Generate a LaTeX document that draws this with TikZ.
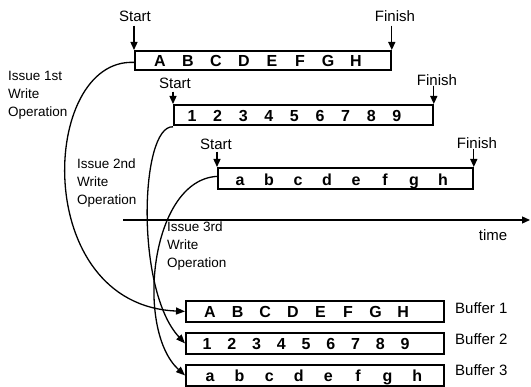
\documentclass[tikz,border=0pt]{standalone}
\usepackage{fontspec}
\setmainfont{Liberation Sans}
\usetikzlibrary{arrows.meta}
\begin{document}
\begin{tikzpicture}[x=1pt,y=-1pt,
  wbox/.style={draw, line width=1.8pt, inner sep=0pt, anchor=north west},
  let/.style={font=\fontsize{16}{16}\selectfont\bfseries, anchor=base, inner sep=0pt},
  lab/.style={font=\fontsize{15}{15}\selectfont, inner sep=0pt},
  issue/.style={font=\fontsize{13.5}{18}\selectfont, align=left, anchor=north west, inner sep=0pt},
  arr/.style={line width=1.3pt, -{Triangle[length=8pt,width=7pt]}},
  curve/.style={line width=1.3pt, -{Triangle[length=9pt,width=7pt]}}]
\useasboundingbox (0,0) rectangle (531,387);

% top write boxes
\node[wbox, minimum width=256pt, minimum height=19pt] (w1) at (134,50) {};
\node[wbox, minimum width=259pt, minimum height=20pt] (w2) at (173,104) {};
\node[wbox, minimum width=255pt, minimum height=21pt] (w3) at (217,167) {};

\foreach \c [count=\i] in {A,B,C,D,E,F,G,H}
  \node[let] (ta\i) at ({160+28*(\i-1)},67) {\c};
\foreach \c [count=\i] in {1,2,3,4,5,6,7,8,9}
  \node[let] (tb\i) at ({192+25.6*(\i-1)},122) {\c};
\foreach \c [count=\i] in {a,b,c,d,e,f,g,h}
  \node[let] (tc\i) at ({240+29*(\i-1)},186) {\c};

% start / finish labels
\node[lab] (s1) at (135,16) {Start};
\node[lab] (f1) at (395,16) {Finish};
\node[lab] (s2) at (175,83) {Start};
\node[lab] (f2) at (437,80) {Finish};
\node[lab] (s3) at (216,144) {Start};
\node[lab] (f3) at (477,143) {Finish};

\draw[arr] (s1.south -| w1.north west) ++(0,4) -- (w1.north west);
\draw[arr] (f1.south -| w1.north east) ++(0,4) -- (w1.north east);
\draw[arr] (s2.south -| w2.north west) ++(0,3) -- (w2.north west);
\draw[arr] (f2.south -| w2.north east) -- (w2.north east);
\draw[arr] (s3.south -| w3.north west) ++(0,2) -- (w3.north west);
\draw[arr] (f3.south -| w3.north east) -- (w3.north east);

% time axis
\coordinate (t0) at (123,220);
\coordinate (t1) at (530,220);
\draw[arr] (t0) -- (t1);
\node[lab] (time) at (493,235) {time};

% issue labels
\node[issue] (i1) at (8,71) {Issue 1st\\Write\\Operation};
\node[issue] (i2) at (77,159) {Issue 2nd\\Write\\Operation};
\node[issue] (i3) at (167,222) {Issue 3rd\\Write\\Operation};

% buffers
\node[wbox, minimum width=258pt, minimum height=21pt] (b1) at (185,300) {};
\node[wbox, minimum width=258pt, minimum height=21pt] (b2) at (185,332) {};
\node[wbox, minimum width=258pt, minimum height=21pt] (b3) at (185,364) {};

\foreach \c [count=\i] in {A,B,C,D,E,F,G,H}
  \node[let] (ba\i) at ({210+27.6*(\i-1)},318) {\c};
\foreach \c [count=\i] in {1,2,3,4,5,6,7,8,9}
  \node[let] (bb\i) at ({207+24.75*(\i-1)},350) {\c};
\foreach \c [count=\i] in {a,b,c,d,e,f,g,h}
  \node[let] (bc\i) at ({210+29.6*(\i-1)},382) {\c};

\node[lab, anchor=west] (l1) at (455,308) {Buffer 1};
\node[lab, anchor=west] (l2) at (455,339) {Buffer 2};
\node[lab, anchor=west] (l3) at (455,370) {Buffer 3};

% write operation curves
\draw[curve] ([yshift=-2pt]w1.west) .. controls (40,58) and (30,305) .. (b1.west);
\draw[curve] ([yshift=-1pt]w2.south west) .. controls (140,125) and (135,290) .. (b2.west);
\draw[curve] ([yshift=2pt]w3.west) .. controls (150,180) and (135,330) .. (b3.west);
\end{tikzpicture}
\end{document}
